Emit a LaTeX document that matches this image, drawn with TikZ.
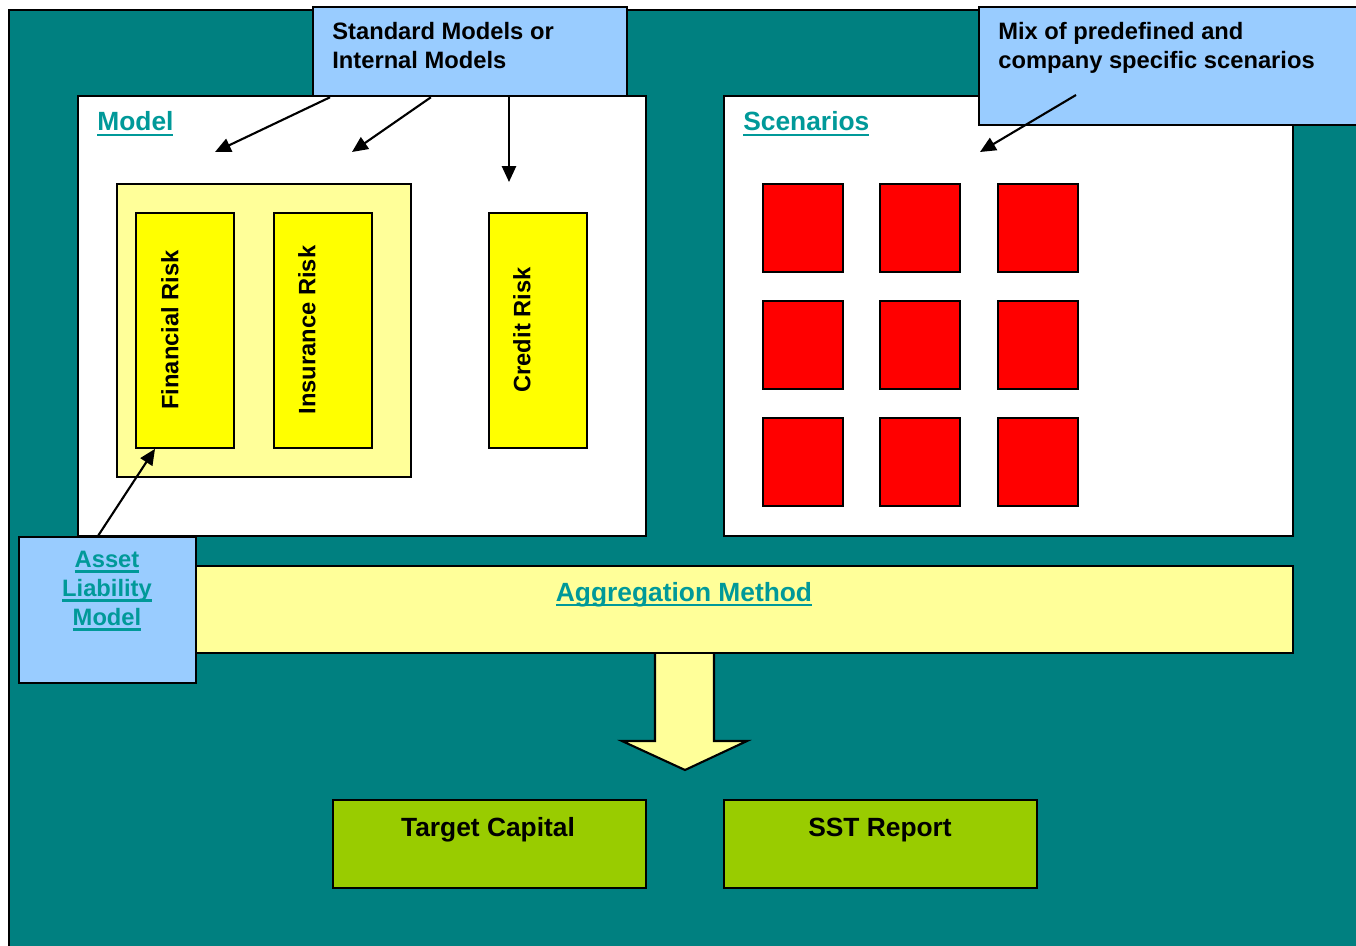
\documentclass[tikz,border=0pt]{standalone}
\usepackage{fontspec}
\setmainfont{Liberation Sans}
\usetikzlibrary{arrows.meta,calc,positioning}
\definecolor{fondo}{HTML}{008080}
\definecolor{celeste}{HTML}{99CCFF}
\definecolor{crema}{HTML}{FFFF99}
\definecolor{amarillo}{HTML}{FFFF00}
\definecolor{rojo}{HTML}{FF0000}
\definecolor{verde}{HTML}{99CC00}
\definecolor{enlace}{HTML}{009999}
\tikzset{
  caja/.style={draw=black,line width=1.3pt,inner sep=0pt,anchor=north west},
  riesgo/.style={caja,fill=amarillo,line width=1.1pt,minimum width=1.97cm,minimum height=4.7cm},
  escena/.style={caja,fill=rojo,line width=0.9pt,minimum width=1.6cm,minimum height=1.77cm},
  salida/.style={caja,fill=verde,minimum width=6.26cm,minimum height=1.76cm},
  texto/.style={font=\fontsize{13.5}{16.4}\selectfont\bfseries,inner sep=0pt,align=left},
  titulo/.style={font=\fontsize{15}{18}\selectfont\bfseries,inner sep=0pt},
  vertical/.style={texto,rotate=90},
  flecha/.style={-{Triangle[length=9pt,width=8pt]},line width=1.2pt},
}
\newsavebox{\cajaenlace}
\newcommand{\enlace}[1]{\textcolor{enlace}{\sbox{\cajaenlace}{#1}\rlap{\rule[-3pt]{\wd\cajaenlace}{1.5pt}}\usebox{\cajaenlace}}}

\begin{document}
\begin{tikzpicture}[x=0.02cm,y=-0.02cm]
\useasboundingbox (0,0) rectangle (1356,946);
% fondo
\draw[fill=fondo,line width=1.3pt] (9,10) rectangle (1400,1000);
% bloques principales
\node[caja,fill=white,minimum width=11.36cm,minimum height=8.8cm] (model) at (77,95) {};
\node[caja,fill=white,minimum width=11.38cm,minimum height=8.8cm] (scen) at (723,95) {};
\node[caja,fill=celeste,minimum width=6.28cm,minimum height=1.78cm] (std) at (312,6) {};
\node[caja,fill=celeste,minimum width=7.7cm,minimum height=2.36cm] (mix) at (978,6) {};
\node[texto,anchor=north west] (stdtxt) at (332,22) {Standard Models or\\Internal Models};
\node[texto,anchor=north west] (mixtxt) at (998,22) {Mix of predefined and\\company specific scenarios};
\node[titulo,anchor=base west] (modeltxt) at (97,131) {\enlace{Model}};
\node[titulo,anchor=base west] (scentxt) at (743,131) {\enlace{Scenarios}};
% riesgos
\node[caja,fill=crema,line width=1.1pt,minimum width=5.88cm,minimum height=5.86cm] (grupo) at (116,183) {};
\node[riesgo] (fin) at (135,212) {};
\node[riesgo] (ins) at (273,212) {};
\node[riesgo] (cred) at (488,212) {};
\node[vertical] (fintxt) at (170,330) {Financial Risk};
\node[vertical] (instxt) at (307,330) {Insurance Risk};
\node[vertical] (credtxt) at (522,330) {Credit Risk};
% escenarios
\foreach \col [count=\i] in {762,879,997}
  \foreach \fila [count=\j] in {183,300,417}
    \node[escena] (esc\i\j) at (\col,\fila) {};
% agregacion
\draw[fill=crema,line width=1.2pt] (655,652) -- (655,741) -- (622,741) -- (685,770)
  -- (747,741) -- (714,741) -- (714,652) -- cycle;
\node[caja,fill=crema,minimum width=21.94cm,minimum height=1.74cm] (agg) at (195,565) {};
\node[titulo,anchor=base] (aggtxt) at (684,601) {\enlace{Aggregation Method}};
\node[caja,fill=celeste,minimum width=3.54cm,minimum height=2.92cm] (alm) at (18,536) {};
\node[texto,align=center,anchor=north] (almtxt) at (107,551) {\enlace{Asset}\\\enlace{Liability}\\\enlace{Model}};
% resultados
\node[salida] (target) at (332,799) {};
\node[salida] (sst) at (723,799) {};
\node[titulo,anchor=base] (targettxt) at (488,836) {Target Capital};
\node[titulo,anchor=base] (ssttxt) at (880,836) {SST Report};
% flechas
\coordinate (p1) at (215,152);
\coordinate (p2) at (352,152);
\coordinate (p3) at (509,182);
\coordinate (p4) at (980,152);
\coordinate (m4) at (1076,95);
\draw[flecha] ($(std.south west)!0.057!(std.south east)$) -- (p1);
\draw[flecha] ($(std.south west)!0.376!(std.south east)$) -- (p2);
\draw[flecha] (p3 |- std.south) -- (p3);
\draw[flecha] (m4) -- (p4);
\draw[flecha] ($(alm.north west)!0.446!(alm.north east)$) -- ($(fin.south west)+(20,0)$);
\end{tikzpicture}
\end{document}
